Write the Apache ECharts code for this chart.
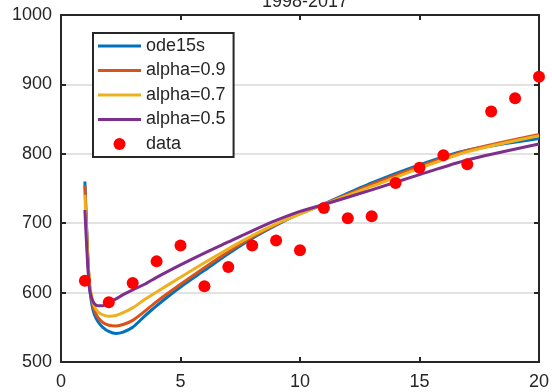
<!DOCTYPE html>
<html>
<head>
<meta charset="utf-8">
<script src="https://cdn.jsdelivr.net/npm/echarts@6/dist/echarts.min.js"></script>
<style>html,body{margin:0;padding:0;background:#fff;}#c{width:552px;height:392px;}</style>
</head>
<body>
<div id="c"></div>
<script>
const titleText = '1998-2017';
const xTicks = [0, 5, 10, 15, 20];
const yTicks = [500, 600, 700, 800, 900, 1000];

const curveX = [1, 1.04, 1.08, 1.12, 1.16, 1.2, 1.3, 1.4, 1.55, 1.75, 2, 2.3, 2.6, 3, 3.5, 4, 5, 6, 7, 8, 9, 10, 11, 13, 15, 17, 20];
const ode15s = [760, 722, 686, 652, 625, 605, 581, 568, 558, 550, 544, 541, 543, 550, 566, 581, 608, 632, 656, 678, 697, 714, 728, 758, 784, 805, 822];
const alpha09 = [755, 718, 684, 653, 628, 610, 587, 574, 564, 557, 553, 552, 554, 560, 573, 587, 612, 636, 659, 680, 698, 714, 727, 756, 782, 805, 828];
const alpha07 = [741, 708, 677, 650, 628, 612, 592, 580, 572, 568, 566, 567, 571, 578, 590, 601, 622, 643, 663, 682, 699, 713, 727, 753, 779, 803, 826];
const alpha05 = [719, 690, 663, 638, 618, 604, 590, 584, 581, 581, 586, 591, 597, 604, 612, 622, 640, 657, 673, 689, 704, 717, 727, 748, 770, 791, 814];

const dataX = [1,2,3,4,5,6,7,8,9,10,11,12,13,14,15,16,17,18,19,20];
const dataY = [617, 586, 614, 645, 668, 609, 637, 668, 675, 661, 722, 707, 710, 758, 780, 798, 785, 861, 880, 911];

const seriesNames = ['ode15s', 'alpha=0.9', 'alpha=0.7', 'alpha=0.5', 'data'];
const colors = ['#0072BD', '#D95319', '#EDB120', '#7E2F8E', '#FF0000'];

const pair = (xs, ys) => xs.map((x, i) => [x, ys[i]]);
const curves = [ode15s, alpha09, alpha07, alpha05];

const axisColor = '#262626';
const font = 'Liberation Sans, Arial, Helvetica, sans-serif';

const chart = echarts.init(document.getElementById('c'), null, {renderer: 'canvas'});

const lineIcon = 'path://M0,0 L43,0 L43,3 L0,3 Z';

const option = {
  animation: false,
  backgroundColor: '#fff',
  title: {
    text: titleText,
    left: 300,
    textAlign: 'center',
    top: -12,
    textStyle: {fontSize: 18, fontWeight: 'normal', color: axisColor, fontFamily: font}
  },
  grid: {left: 61, right: 12, top: 15, bottom: 30, containLabel: false},
  legend: {
    left: 93,
    top: 33,
    orient: 'vertical',
    padding: [4, 8, 4, 5],
    itemGap: 6.5,
    itemWidth: 43,
    itemHeight: 12,
    borderColor: axisColor,
    borderWidth: 2,
    backgroundColor: '#fff',
    textStyle: {fontSize: 18, color: axisColor, fontFamily: font, lineHeight: 18},
    data: seriesNames.map((n, i) => ({
      name: n,
      icon: i < 4 ? lineIcon : 'circle',
      itemStyle: {color: colors[i], borderWidth: 0, opacity: 1}
    }))
  },
  xAxis: [{
    type: 'value', min: 0, max: 20, interval: 5, position: 'bottom',
    axisLine: {show: true, onZero: false, lineStyle: {color: axisColor, width: 2}},
    axisTick: {show: true, inside: true, length: 5, lineStyle: {color: axisColor, width: 2}},
    axisLabel: {margin: 11, fontSize: 18, color: axisColor, fontFamily: font,
      formatter: v => xTicks.includes(v) ? String(v) : ''},
    splitLine: {show: false}
  }, {
    type: 'value', min: 0, max: 20, interval: 5, position: 'top',
    axisLine: {show: true, onZero: false, lineStyle: {color: axisColor, width: 2}},
    axisTick: {show: true, inside: true, length: 5, lineStyle: {color: axisColor, width: 2}},
    axisLabel: {show: false}, splitLine: {show: false}
  }],
  yAxis: [{
    type: 'value', min: 500, max: 1000, interval: 100, position: 'left',
    axisLine: {show: true, onZero: false, lineStyle: {color: axisColor, width: 2}},
    axisTick: {show: true, inside: true, length: 5, lineStyle: {color: axisColor, width: 2}},
    axisLabel: {margin: 9, fontSize: 18, color: axisColor, fontFamily: font,
      formatter: v => yTicks.includes(v) ? String(v) : ''},
    splitLine: {show: true, lineStyle: {color: '#e2e2e2', width: 2}}
  }, {
    type: 'value', min: 500, max: 1000, interval: 100, position: 'right',
    axisLine: {show: true, onZero: false, lineStyle: {color: axisColor, width: 2}},
    axisTick: {show: true, inside: true, length: 5, lineStyle: {color: axisColor, width: 2}},
    axisLabel: {show: false}, splitLine: {show: false}
  }],
  series: curves.map((ys, i) => ({
    name: seriesNames[i],
    type: 'line',
    data: pair(curveX, ys),
    showSymbol: false,
    smooth: 0.25,
    lineStyle: {color: colors[i], width: 3},
    itemStyle: {color: colors[i]},
    z: 2 + i
  })).concat([{
    name: seriesNames[4],
    type: 'scatter',
    data: pair(dataX, dataY),
    symbol: 'circle',
    symbolSize: 12,
    itemStyle: {color: colors[4], opacity: 1},
    z: 10
  }])
};
chart.setOption(option);
</script>
</body>
</html>
